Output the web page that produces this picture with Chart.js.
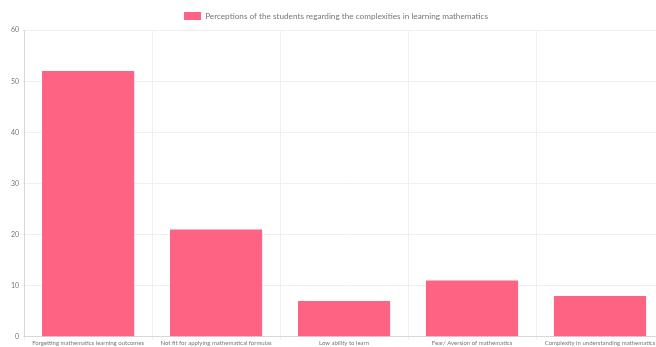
<!DOCTYPE html>
<html>
    <head>
        <title>Perceptions chart</title>
        <script src="https://cdn.jsdelivr.net/npm/chart.js@4.4.0/dist/chart.umd.min.js"></script>
        <style>
            body { margin: 0; background: #fff; overflow: hidden; }
            #wrap { width: 670px; height: 347px; }
        </style>
    </head>
    <body>
        <div id="wrap">
            <canvas id="barChart"></canvas>
        </div>

        <script>
            //Categories shown on the x axis
            const labels = [
                "Forgetting mathematics learning outcomes",
                "Not fit for applying mathematical formulas",
                "Low ability to learn",
                "Fear/ Aversion of mathematics",
                "Complexity in understanding mathematics"
            ];
            //Number of students for each category
            const counts = [52, 21, 7, 11, 8];
            const seriesName = "Perceptions of the students regarding the complexities in learning mathematics";

            Chart.defaults.font.family = "Lato";
            Chart.defaults.font.size = 6;
            Chart.defaults.color = "#777";

            const data = {
                labels: labels,
                datasets: [{
                    label: seriesName,
                    data: counts,
                    backgroundColor: "rgb(255, 99, 132)",
                    borderWidth: 0
                }]
            };

            const config = {
                type: 'bar',
                data: data,
                options: {
                    responsive: true,
                    maintainAspectRatio: false,
                    animation: false,
                    layout: { padding: { left: 8, right: 6, top: 9, bottom: 0 } },
                    plugins: {
                        legend: {
                            labels: { boxWidth: 17, boxHeight: 8, padding: 3, font: { size: 8.2 } }
                        }
                    },
                    scales: {
                        x: {
                            grid: { color: "#f0f0f0", tickLength: 3 },
                            ticks: { maxRotation: 0, autoSkip: false, padding: 0, font: { size: 6 } }
                        },
                        y: {
                            beginAtZero: true,
                            max: 60,
                            grid: { color: "#f0f0f0", tickLength: 2 },
                            ticks: { stepSize: 10, padding: 3, font: { size: 7 } }
                        }
                    }
                }
            };

            new Chart(document.getElementById("barChart"), config);
        </script>
    </body>
</html>
